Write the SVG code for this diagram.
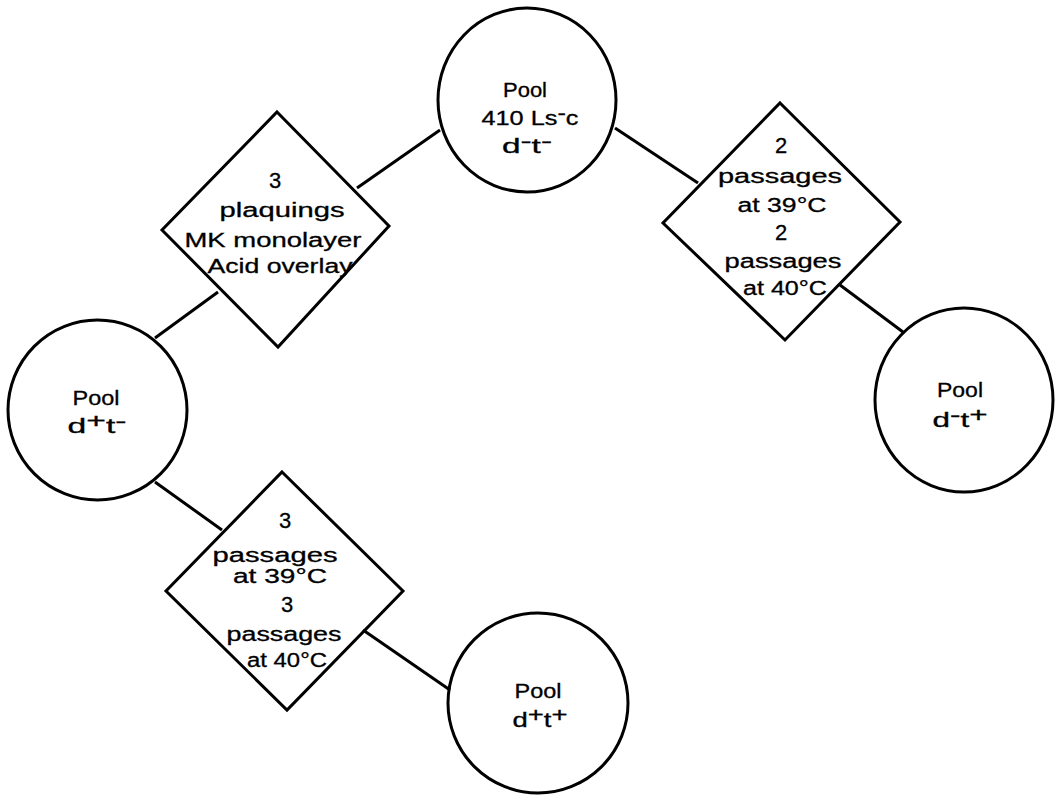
<svg xmlns="http://www.w3.org/2000/svg" width="1055" height="795" viewBox="0 0 1055 795">
<style>
.shape{fill:none;stroke:#000;stroke-width:3;stroke-linejoin:miter}
.conn{stroke:#000;stroke-width:3;fill:none}
text{font-family:"Liberation Sans",Arial,sans-serif;font-size:20px;fill:#000;stroke:#000;stroke-width:0.3;text-anchor:middle}
.num{font-size:22px}
</style>
<rect width="1055" height="795" fill="#fff"/>
<g id="connectors">
<line class="conn" x1="357" y1="188" x2="440" y2="130"/>
<line class="conn" x1="615" y1="128" x2="698" y2="183"/>
<line class="conn" x1="218" y1="292" x2="155" y2="338"/>
<line class="conn" x1="840" y1="285" x2="903" y2="332"/>
<line class="conn" x1="155" y1="482" x2="222" y2="530"/>
<line class="conn" x1="363" y1="630" x2="450" y2="690"/>
</g>
<g id="pool-top">
<ellipse class="shape" cx="527" cy="100" rx="89" ry="92"/>
<text x="525" y="97" textLength="44" lengthAdjust="spacingAndGlyphs">Pool</text>
<text x="530" y="125" textLength="97" lengthAdjust="spacingAndGlyphs">410 Ls<tspan dy="-5">-</tspan><tspan dy="5">c</tspan></text>
<text x="527" y="153" textLength="50" lengthAdjust="spacingAndGlyphs">d<tspan dy="-5">-</tspan><tspan dy="5">t</tspan><tspan dy="-5">-</tspan></text>
</g>
<g id="plaquing">
<polygon class="shape" points="277,112 389,226 278,347 162,230"/>
<text class="num" x="275" y="188">3</text>
<text x="282" y="217" textLength="125" lengthAdjust="spacingAndGlyphs">plaquings</text>
<text x="273" y="247" textLength="177" lengthAdjust="spacingAndGlyphs">MK monolayer</text>
<text x="280" y="273" textLength="145" lengthAdjust="spacingAndGlyphs">Acid overlay</text>
</g>
<g id="passages-right">
<polygon class="shape" points="780,103 900,222 785,340 663,223"/>
<text class="num" x="781" y="153">2</text>
<text x="780" y="183" textLength="124" lengthAdjust="spacingAndGlyphs">passages</text>
<text x="782" y="212" textLength="89" lengthAdjust="spacingAndGlyphs">at 39°C</text>
<text class="num" x="781" y="240">2</text>
<text x="783" y="268" textLength="117" lengthAdjust="spacingAndGlyphs">passages</text>
<text x="785" y="295" textLength="84" lengthAdjust="spacingAndGlyphs">at 40°C</text>
</g>
<g id="pool-left">
<ellipse class="shape" cx="97.5" cy="410" rx="89.5" ry="90"/>
<text x="96" y="405" textLength="47" lengthAdjust="spacingAndGlyphs">Pool</text>
<text x="97" y="433" textLength="59" lengthAdjust="spacingAndGlyphs">d<tspan dy="-5">+</tspan><tspan dy="5">t</tspan><tspan dy="-5">-</tspan></text>
</g>
<g id="pool-right">
<ellipse class="shape" cx="964" cy="400" rx="89" ry="92"/>
<text x="960" y="397" textLength="46" lengthAdjust="spacingAndGlyphs">Pool</text>
<text x="960" y="427" textLength="55" lengthAdjust="spacingAndGlyphs">d<tspan dy="-5">-</tspan><tspan dy="5">t</tspan><tspan dy="-5">+</tspan></text>
</g>
<g id="passages-bottom">
<polygon class="shape" points="282,472 403,591 287,710 166,591"/>
<text class="num" x="285" y="528">3</text>
<text x="275" y="562" textLength="125" lengthAdjust="spacingAndGlyphs">passages</text>
<text x="280" y="583" textLength="94" lengthAdjust="spacingAndGlyphs">at 39°C</text>
<text class="num" x="287" y="612">3</text>
<text x="284" y="641" textLength="115" lengthAdjust="spacingAndGlyphs">passages</text>
<text x="287" y="667" textLength="80" lengthAdjust="spacingAndGlyphs">at 40°C</text>
</g>
<g id="pool-bottom">
<ellipse class="shape" cx="538" cy="703" rx="90" ry="90"/>
<text x="538" y="698" textLength="47" lengthAdjust="spacingAndGlyphs">Pool</text>
<text x="540" y="727" textLength="55" lengthAdjust="spacingAndGlyphs">d<tspan dy="-5">+</tspan><tspan dy="5">t</tspan><tspan dy="-5">+</tspan></text>
</g>
</svg>
